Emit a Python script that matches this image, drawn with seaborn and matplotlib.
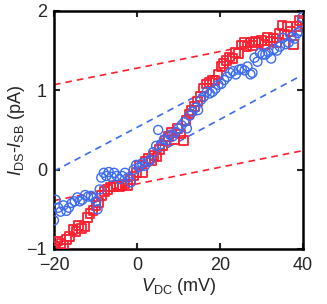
import matplotlib
matplotlib.use("Agg")
import matplotlib.pyplot as plt
import seaborn as sns
import pandas as pd

# measured points (V_DC in mV, I in pA)
red_x = [-19.8, -19.0, -18.3, -17.6, -16.9, -16.2, -15.4, -14.7, -14.0, -13.3,
         -12.6, -12.0, -11.3, -10.6, -9.9, -9.2, -8.5, -7.8, -7.1, -6.4,
         -5.7, -5.0, -4.3, -3.6, -2.9, -2.2, -1.5, -0.8, -0.1, 0.6,
         1.3, 2.0, 2.7, 3.4, 4.1, 4.8, 5.5, 6.2, 6.9, 7.6,
         8.3, 9.0, 9.7, 10.4, 11.1, 11.8, 12.5, 13.2, 13.9, 14.6,
         15.3, 16.0, 16.7, 17.4, 18.1, 18.8, 19.5, 20.2, 20.9, 21.6,
         22.3, 23.0, 23.7, 24.4, 25.1, 25.8, 26.5, 27.2, 27.9, 28.6,
         29.3, 30.0, 30.7, 31.4, 32.1, 32.8, 33.5, 34.2, 34.9, 35.6,
         36.3, 37.0, 37.7, 38.4, 39.1, 39.8]
red_y = [-0.97, -0.90, -0.93, -0.95, -0.88, -0.84, -0.75, -0.78, -0.70, -0.74,
         -0.72, -0.60, -0.55, -0.52, -0.45, -0.41, -0.33, -0.28, -0.25, -0.22,
         -0.21, -0.20, -0.22, -0.20, -0.18, -0.20, -0.12, -0.08, -0.04, 0.05,
         -0.04, 0.10, 0.14, 0.12, 0.18, 0.16, 0.25, 0.30, 0.37, 0.42,
         0.47, 0.38, 0.52, 0.45, 0.37, 0.62, 0.70, 0.75, 0.80, 0.86,
         0.92, 1.03, 1.08, 1.10, 1.13, 1.12, 1.20, 1.30, 1.34, 1.38,
         1.42, 1.40, 1.48, 1.46, 1.57, 1.60, 1.55, 1.60, 1.56, 1.62,
         1.60, 1.63, 1.58, 1.67, 1.62, 1.66, 1.60, 1.72, 1.82, 1.70,
         1.80, 1.74, 1.58, 1.80, 1.88, 1.85]

blue_x = [-20.0, -19.6, -19.0, -18.4, -17.7, -17.0, -16.4, -15.7, -15.0, -14.4,
          -13.8, -13.2, -12.5, -11.8, -11.1, -10.4, -9.8, -9.5, -9.0, -8.6,
          -8.0, -7.4, -6.8, -6.1, -5.5, -4.9, -4.2, -3.6, -2.9, -2.2,
          -1.5, -0.8, -0.2, 0.5, 1.2, 1.9, 2.6, 3.2, 3.9, 4.6,
          5.1, 5.8, 6.5, 7.2, 7.9, 8.6, 9.3, 10.0, 10.7, 11.4,
          12.0, 12.7, 13.3, 14.0, 14.7, 15.4, 16.1, 16.8, 17.5, 18.2,
          18.9, 19.6, 20.3, 21.0, 21.7, 22.4, 23.1, 23.8, 24.5, 25.2,
          25.9, 26.6, 27.3, 27.8, 28.3, 29.0, 29.6, 30.2, 30.9, 31.6,
          32.3, 33.0, 33.7, 34.4, 35.1, 35.8, 36.5, 37.2, 37.9, 38.6,
          39.3, 39.8]
blue_y = [-0.64, -0.38, -0.48, -0.53, -0.45, -0.52, -0.48, -0.42, -0.40, -0.35,
          -0.40, -0.38, -0.32, -0.34, -0.33, -0.36, -0.40, -0.50, -0.25, -0.10,
          -0.04, -0.08, -0.03, -0.09, -0.04, -0.08, -0.12, -0.08, -0.04, -0.10,
          -0.16, 0.00, 0.06, 0.03, 0.08, 0.05, 0.10, 0.12, 0.22, 0.30,
          0.50, 0.32, 0.38, 0.37, 0.44, 0.42, 0.47, 0.52, 0.56, 0.60,
          0.52, 0.68, 0.73, 0.78, 0.75, 0.88, 0.92, 0.98, 0.96, 0.98,
          1.02, 1.07, 1.08, 1.13, 1.17, 1.22, 1.24, 1.20, 1.26, 1.27,
          1.25, 1.30, 1.20, 1.22, 1.41, 1.36, 1.47, 1.45, 1.45, 1.48,
          1.40, 1.52, 1.50, 1.55, 1.66, 1.58, 1.60, 1.67, 1.65, 1.72,
          1.75, 1.92]

# dashed guide lines (end points)
red_hi_x, red_hi_y = [-20, 24], [1.07, 1.53]
red_lo_x, red_lo_y = [-20, 40], [-0.39, 0.24]
blue_hi_x, blue_hi_y = [-20, 18], [-0.02, 1.03]
blue_lo_x, blue_lo_y = [0, 39], [0.07, 1.17]

RED = "#ff1f2e"
BLUE = "#3b6cf2"

sns.set_style("ticks")
plt.rcParams['font.family'] = ['Liberation Sans', 'DejaVu Sans']
plt.rcParams['mathtext.fontset'] = 'custom'
plt.rcParams['mathtext.rm'] = 'Liberation Sans'
plt.rcParams['mathtext.it'] = 'Liberation Sans:italic'

fig = plt.figure(figsize=(3.27, 3.04), dpi=100)
ax = fig.add_axes([0.165, 0.181, 0.762, 0.783])

dash = dict(linestyle=(0, (4, 3)), linewidth=1.2, legend=False)
sns.lineplot(x=red_hi_x, y=red_hi_y, color=RED, ax=ax, **dash)
sns.lineplot(x=red_lo_x, y=red_lo_y, color=RED, ax=ax, **dash)
sns.lineplot(x=blue_hi_x, y=blue_hi_y, color=BLUE, ax=ax, **dash)
sns.lineplot(x=blue_lo_x, y=blue_lo_y, color=BLUE, ax=ax, **dash)

red_df = pd.DataFrame({'v': red_x, 'i': red_y})
blue_df = pd.DataFrame({'v': blue_x, 'i': blue_y})
sns.scatterplot(data=red_df, x='v', y='i', marker='s', s=40, facecolor='none',
                edgecolor=RED, linewidth=1.3, ax=ax, zorder=3)
sns.scatterplot(data=blue_df, x='v', y='i', marker='o', s=42, facecolor='none',
                edgecolor=BLUE, linewidth=1.0, ax=ax, zorder=4)

ax.set_xlim(-20, 40)
ax.set_ylim(-1, 2)
ax.set_xticks([-20, 0, 20, 40])
ax.set_yticks([-1, 0, 1, 2])
ax.tick_params(direction='in', length=4, width=1.5, labelsize=13,
               top=True, right=True)
ax.tick_params(axis='x', pad=6)
ax.tick_params(axis='y', pad=5)
for sp in ax.spines.values():
    sp.set_linewidth(1.8)
    sp.set_color('black')

ax.set_xlabel(r'$V_{\rm DC}$ (mV)', fontsize=13, labelpad=1)
ax.set_ylabel(r'$I_{\rm DS}$-$I_{\rm SB}$ (pA)', fontsize=13, labelpad=0)

fig.savefig("out.png", dpi=100)
